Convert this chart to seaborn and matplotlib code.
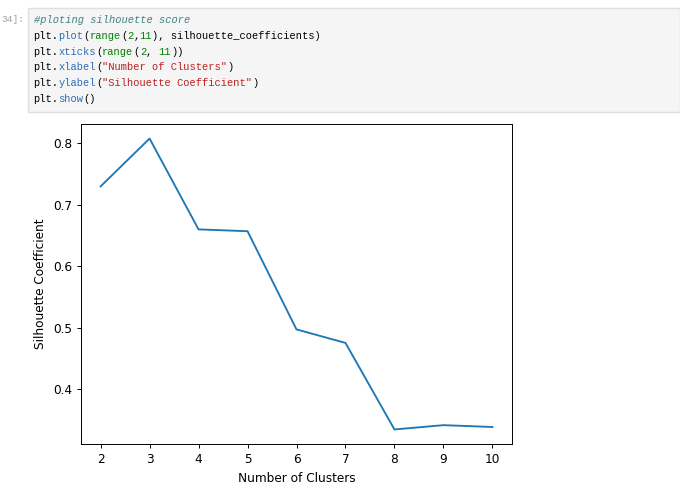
import matplotlib
matplotlib.use("Agg")
import matplotlib.pyplot as plt
import pandas as pd
import seaborn as sns
from matplotlib.patches import Rectangle

# values
n_clusters = [2, 3, 4, 5, 6, 7, 8, 9, 10]
silhouette_coefficients = [0.730, 0.808, 0.660, 0.657, 0.497, 0.475, 0.334, 0.341, 0.338]

# notebook cell text, split into (text, colour, italic) tokens
BLACK, BLUE, GREEN, RED, COMMENT = "#000000", "#2f6db5", "#008000", "#ba2121", "#408080"
code_lines = [
    [("#ploting silhouette score", COMMENT, True)],
    [("plt.", BLACK, False), ("plot", BLUE, False), ("(", BLACK, False), ("range", GREEN, False),
     ("(", BLACK, False), ("2", GREEN, False), (",", BLACK, False), ("11", GREEN, False),
     ("), silhouette_coefficients)", BLACK, False)],
    [("plt.", BLACK, False), ("xticks", BLUE, False), ("(", BLACK, False), ("range", GREEN, False),
     ("(", BLACK, False), ("2", GREEN, False), (", ", BLACK, False), ("11", GREEN, False),
     ("))", BLACK, False)],
    [("plt.", BLACK, False), ("xlabel", BLUE, False), ("(", BLACK, False),
     ('"Number of Clusters"', RED, False), (")", BLACK, False)],
    [("plt.", BLACK, False), ("ylabel", BLUE, False), ("(", BLACK, False),
     ('"Silhouette Coefficient"', RED, False), (")", BLACK, False)],
    [("plt.", BLACK, False), ("show", BLUE, False), ("()", BLACK, False)],
]

W, H = 680, 493
MONO = "Liberation Mono"
CODE_SIZE = 7.45
fig = plt.figure(figsize=(W / 100, H / 100), dpi=100)
renderer = fig.canvas.get_renderer()

# code cell background
fig.patches.append(Rectangle((28 / W, 1 - 112 / H), (W - 28) / W, 104 / H,
                             transform=fig.transFigure, facecolor="#f5f5f5",
                             edgecolor="#e0e0e0", linewidth=1))
fig.text(1 / W, 1 - 20 / H, "34]:", ha="left", va="center", color="#a0a0a0",
         family=MONO, fontsize=6.8)

# width of one monospace character, measured on the real renderer
probe = fig.text(0, 0, "x" * 50, family=MONO, fontsize=CODE_SIZE)
char_w = probe.get_window_extent(renderer).width / 50
probe.remove()

for i, tokens in enumerate(code_lines):
    y = 1 - (20 + i * 15.8) / H
    col = 0
    for text, color, italic in tokens:
        fig.text((33.5 + col * char_w) / W, y, text, ha="left", va="center", color=color,
                 family=MONO, fontsize=CODE_SIZE,
                 style="italic" if italic else "normal")
        col += len(text)

# the chart itself
df = pd.DataFrame({"k": n_clusters, "score": silhouette_coefficients})
ax = fig.add_axes([81 / W, 1 - 444 / H, 431 / W, 320 / H])
sns.lineplot(data=df, x="k", y="score", ax=ax, color="#1f77b4", linewidth=1.35)
ax.set_xticks(range(2, 11))
ax.set_xlabel("Number of Clusters", fontsize=8.7)
ax.set_ylabel("Silhouette Coefficient", fontsize=8.7)
ax.tick_params(labelsize=8.7, length=3, width=0.7)
for s in ax.spines.values():
    s.set_linewidth(0.7)

fig.savefig("out.png", dpi=100)
